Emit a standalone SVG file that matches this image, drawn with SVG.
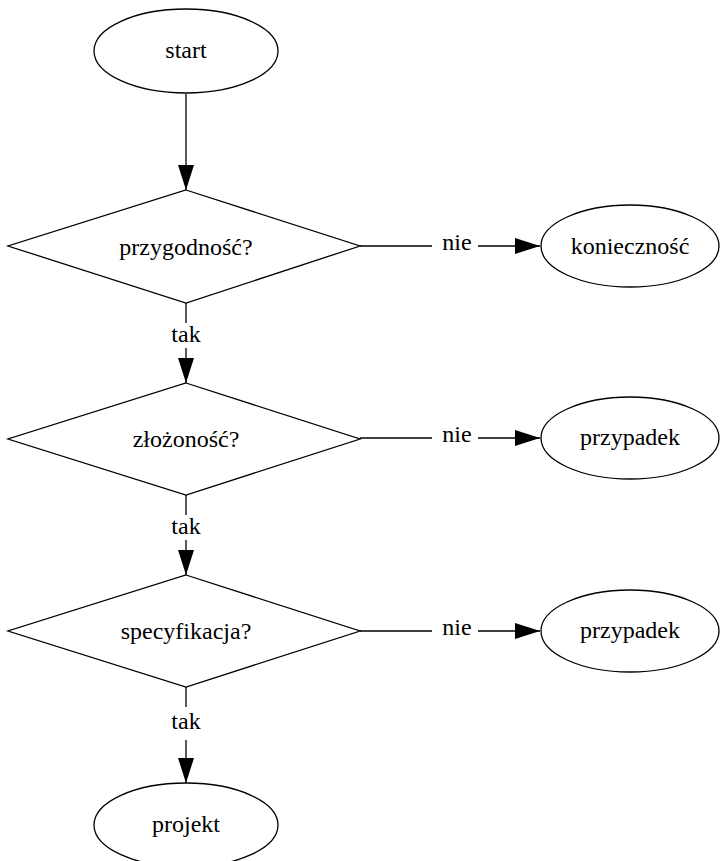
<svg xmlns="http://www.w3.org/2000/svg" width="721" height="861" viewBox="0 0 721 861">
<style>
.s{fill:#fff;stroke:#000;stroke-width:1.3}
.e{fill:none;stroke:#000;stroke-width:1.3}
.t{font-family:"Liberation Serif","Times New Roman",serif;font-size:24px;text-anchor:middle;fill:#000}
</style>
<defs>
<marker id="a" markerWidth="25" markerHeight="16" refX="25" refY="8" orient="auto" markerUnits="userSpaceOnUse">
<path d="M0,0 L25,8 L0,16 Z" fill="#000"/>
</marker>
</defs>
<rect width="721" height="861" fill="#fff"/>
<g id="edges">
<line class="e" x1="186" y1="94" x2="186" y2="190" marker-end="url(#a)"/>
<line class="e" x1="186" y1="303" x2="186" y2="323"/>
<text class="t" x="186" y="342">tak</text>
<line class="e" x1="186" y1="348" x2="186" y2="383" marker-end="url(#a)"/>
<line class="e" x1="186" y1="495" x2="186" y2="515"/>
<text class="t" x="186" y="534">tak</text>
<line class="e" x1="186" y1="540" x2="186" y2="575" marker-end="url(#a)"/>
<line class="e" x1="186" y1="687" x2="186" y2="707"/>
<text class="t" x="186" y="729">tak</text>
<line class="e" x1="186" y1="740" x2="186" y2="783" marker-end="url(#a)"/>
<line class="e" x1="360" y1="246" x2="432" y2="246"/>
<text class="t" x="457" y="250">nie</text>
<line class="e" x1="478" y1="246" x2="540" y2="246" marker-end="url(#a)"/>
<line class="e" x1="360" y1="438" x2="432" y2="438"/>
<text class="t" x="457" y="442">nie</text>
<line class="e" x1="478" y1="438" x2="540" y2="438" marker-end="url(#a)"/>
<line class="e" x1="360" y1="631" x2="432" y2="631"/>
<text class="t" x="457" y="635">nie</text>
<line class="e" x1="478" y1="631" x2="540" y2="631" marker-end="url(#a)"/>
</g>
<g id="start"><ellipse class="s" cx="186" cy="51" rx="92" ry="42"/><text class="t" x="186" y="58">start</text></g>
<g id="d1"><polygon class="s" points="186,190 360,246 186,303 8,246"/><text class="t" x="186" y="255">przygodność?</text></g>
<g id="d2"><polygon class="s" points="186,383 360,439 186,495 8,439"/><text class="t" x="186" y="447">złożoność?</text></g>
<g id="d3"><polygon class="s" points="186,575 360,631 186,687 8,631"/><text class="t" x="186" y="639">specyfikacja?</text></g>
<g id="n1"><ellipse class="s" cx="630" cy="246" rx="89" ry="41"/><text class="t" x="630" y="254">konieczność</text></g>
<g id="n2"><ellipse class="s" cx="630" cy="438" rx="89" ry="41"/><text class="t" x="630" y="445">przypadek</text></g>
<g id="n3"><ellipse class="s" cx="630" cy="631" rx="89" ry="41"/><text class="t" x="630" y="638">przypadek</text></g>
<g id="projekt"><ellipse class="s" cx="186" cy="825" rx="92" ry="42"/><text class="t" x="186" y="832">projekt</text></g>
</svg>
